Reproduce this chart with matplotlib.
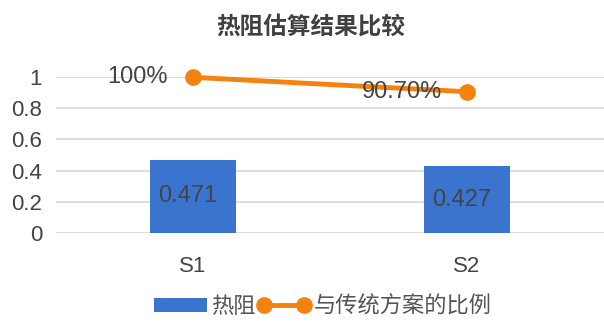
import matplotlib.pyplot as plt
import numpy as np

plt.rcParams['font.family'] = ['Liberation Sans', 'Noto Sans CJK SC', 'DejaVu Sans']

categories = ['S1', 'S2']
resistance = [0.471, 0.427]
ratio = [1.0, 0.907]
ratio_labels = ['100%', '90.70%']
yticks = [0, 0.2, 0.4, 0.6, 0.8, 1]
ytick_labels = ['0', '0.2', '0.4', '0.6', '0.8', '1']

blue = '#3A74CF'
orange = '#F5820F'
text_grey = '#444444'

fig = plt.figure(figsize=(6.04, 3.34), dpi=100)
ax = fig.add_axes([56 / 604, 1 - 232.7 / 334, 1 - 56 / 604, (232.7 - 77.3) / 334])

x = np.arange(len(categories))
bars = ax.bar(x, resistance, width=0.314, color=blue, label='热阻', zorder=2)
line, = ax.plot(x, ratio, color=orange, lw=3.5, marker='o', markersize=11,
                label='与传统方案的比例', zorder=3, clip_on=False)

for xi, v in zip(x, resistance):
    ax.text(xi - 0.02, v / 2, f'{v:.3f}', ha='center', va='center',
            fontsize=17, color=text_grey, zorder=4)
for xi, v, lab in zip(x, ratio, ratio_labels):
    ax.annotate(lab, (xi, v), xytext=(-18, 0), textcoords='offset points',
                ha='right', va='center', fontsize=17, color=text_grey, zorder=4)

ax.set_xlim(-0.5, 1.5)
ax.set_ylim(0, 1)
ax.set_xticks(x)
ax.set_xticklabels(categories, fontsize=16, color=text_grey)
ax.set_yticks(yticks)
ax.set_yticklabels(ytick_labels, fontsize=16, color=text_grey)
ax.tick_params(length=0, axis='y', pad=10)
ax.tick_params(length=0, axis='x', pad=17)
ax.grid(axis='y', color='#DDDDDD', lw=1.5, zorder=0)
ax.set_axisbelow(True)
for s in ax.spines.values():
    s.set_visible(False)

fig.text(0.515, 1 - 27 / 334, '热阻估算结果比较', ha='center', va='center',
         fontsize=17, fontweight='bold', color='#404040')

fig.legend(handles=[bars, line], loc='center', bbox_to_anchor=(0.535, 1 - 307 / 334),
           ncol=2, frameon=False, fontsize=16, labelcolor='#555555',
           handlelength=2.4, handleheight=0.55, handletextpad=0.15,
           columnspacing=0.1, numpoints=2)

fig.savefig('out.png', dpi=100)
